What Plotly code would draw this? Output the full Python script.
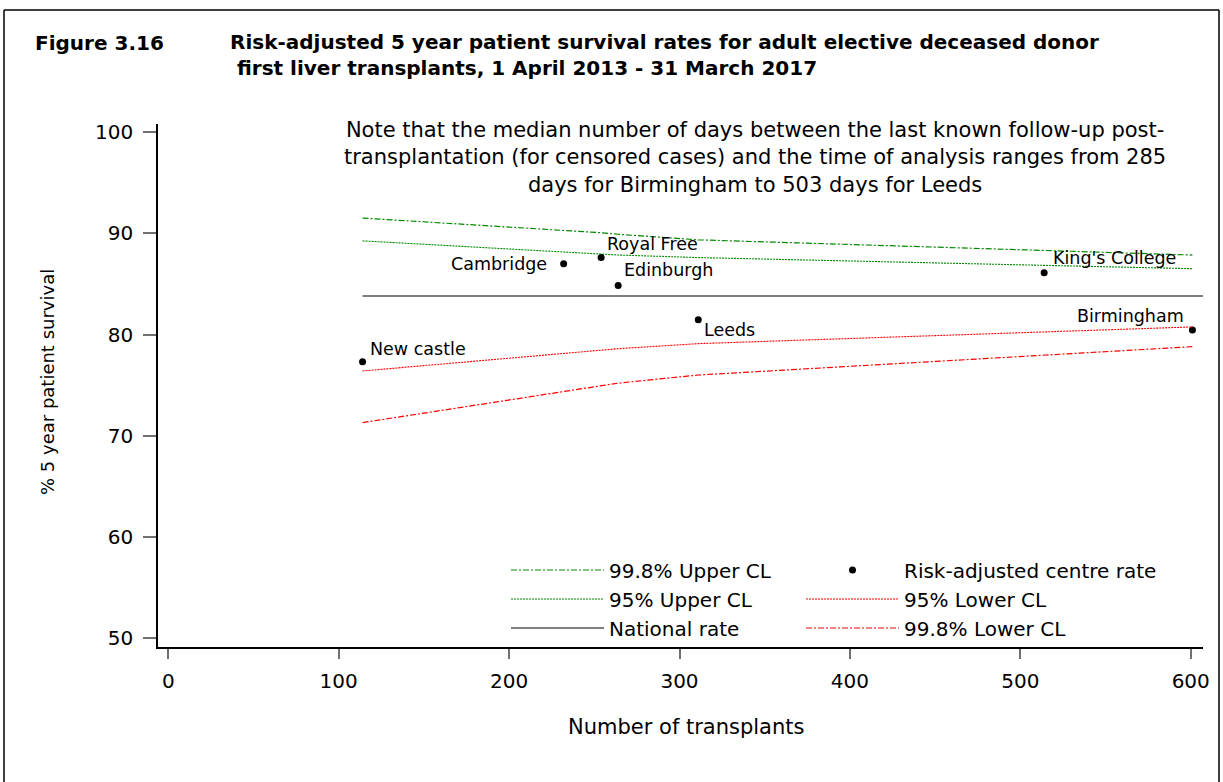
import plotly.graph_objects as go

# Centre results: number of transplants and risk-adjusted 5 year survival (%)
centres = ["New castle", "Cambridge", "Royal Free", "Edinburgh", "Leeds", "King's College", "Birmingham"]
n_transplants = [114, 232, 254, 264, 311, 514, 601]
survival = [77.3, 87.0, 87.6, 84.85, 81.45, 86.1, 80.45]

# Funnel limits evaluated at each centre size
funnel_n = [114, 232, 254, 264, 311, 514, 601]
upper_998 = [91.5, 90.3, 90.05, 89.9, 89.35, 88.3, 87.85]
upper_95 = [89.25, 88.2, 87.95, 87.85, 87.6, 86.8, 86.5]
lower_95 = [76.4, 78.1, 78.4, 78.6, 79.1, 80.25, 80.75]
lower_998 = [71.3, 74.4, 74.95, 75.2, 76.0, 77.95, 78.8]
national_rate = 83.8

x_range = [-6.04, 607.2]
y_range = [49.14, 100.79]
x_ticks = [0, 100, 200, 300, 400, 500, 600]
y_ticks = [50, 60, 70, 80, 90, 100]

W, H = 1223, 782
ML, MR, MT, MB = 158, 20, 124, 135
PW, PH = W - ML - MR, H - MT - MB


def px_x(px):
    return (px - ML) / PW


def px_y(py):
    return (H - MB - py) / PH


FONT = "DejaVu Sans"
GREEN = "#008a00"
RED = "#ff0000"

fig = go.Figure()

fig.add_trace(go.Scatter(x=funnel_n, y=upper_998, mode="lines", name="99.8% Upper CL",
                         line=dict(color=GREEN, width=1.2, dash="6px,2px,2px,2px"), legend="legend"))
fig.add_trace(go.Scatter(x=funnel_n, y=upper_95, mode="lines", name="95% Upper CL",
                         line=dict(color=GREEN, width=1.1, dash="2px,1px"), legend="legend"))
fig.add_trace(go.Scatter(x=[funnel_n[0], x_range[1]], y=[national_rate, national_rate], mode="lines",
                         name="National rate", line=dict(color="black", width=1.1), legend="legend"))
fig.add_trace(go.Scatter(x=n_transplants, y=survival, mode="markers", name="Risk-adjusted centre rate",
                         marker=dict(color="black", size=7), legend="legend2"))
fig.add_trace(go.Scatter(x=funnel_n, y=lower_95, mode="lines", name="95% Lower CL",
                         line=dict(color=RED, width=1.1, dash="2px,1px"), legend="legend2"))
fig.add_trace(go.Scatter(x=funnel_n, y=lower_998, mode="lines", name="99.8% Lower CL",
                         line=dict(color=RED, width=1.2, dash="6px,2px,2px,2px"), legend="legend2"))

# Centre labels, offset in pixels from each point
label_pos = {
    "New castle": ("left", 5, 13),
    "Cambridge": ("right", -15, 0),
    "Royal Free": ("left", 4, 14),
    "Edinburgh": ("left", 4, 15),
    "Leeds": ("left", 4, -10),
    "King's College": ("left", 7, 15),
    "Birmingham": ("right", -6, 14),
}
annotations = []
for name, nx, sy in zip(centres, n_transplants, survival):
    anchor, dx, dy = label_pos[name]
    annotations.append(dict(x=nx, y=sy, xref="x", yref="y", text=name, showarrow=False,
                            xanchor=anchor, yanchor="middle", xshift=dx, yshift=dy,
                            font=dict(family=FONT, size=17.5, color="black")))

# Note about follow-up time
annotations.append(dict(
    x=px_x(755), y=px_y(157), xref="paper", yref="paper", showarrow=False,
    text="Note that the median number of days between the last known follow-up post-<br>"
         "transplantation (for censored cases) and the time of analysis ranges from 285<br>"
         "days for Birmingham to 503 days for Leeds",
    align="center", xanchor="center", yanchor="middle",
    font=dict(family=FONT, size=21, color="black")))

# Figure heading
title_font = dict(family=FONT, size=20, color="black", weight="bold")
annotations += [
    dict(x=px_x(33), y=px_y(42.5), xref="paper", yref="paper", showarrow=False, text="Figure 3.16",
         xanchor="left", yanchor="middle", font=title_font),
    dict(x=px_x(228), y=px_y(54.5), xref="paper", yref="paper", showarrow=False,
         text="Risk-adjusted 5 year patient survival rates for adult elective deceased donor<br>"
              "&nbsp;first liver transplants, 1 April 2013 - 31 March 2017",
         align="left", xanchor="left", yanchor="middle", font=title_font),
]

# Axis titles
annotations += [
    dict(x=px_x(686), y=px_y(727), xref="paper", yref="paper", showarrow=False,
         text="Number of transplants", xanchor="center", yanchor="middle",
         font=dict(family=FONT, size=21, color="black")),
    dict(x=px_x(47), y=px_y(382), xref="paper", yref="paper", showarrow=False,
         text="% 5 year patient survival", textangle=-90, xanchor="center", yanchor="middle",
         font=dict(family=FONT, size=18, color="black")),
]

# Outer frame (top, left, right edges)
frame = dict(color="black", width=1.5)
shapes = [
    dict(type="line", xref="paper", yref="paper", x0=px_x(4), x1=px_x(1219), y0=px_y(10), y1=px_y(10), line=frame),
    dict(type="line", xref="paper", yref="paper", x0=px_x(4), x1=px_x(4), y0=px_y(10), y1=px_y(800), line=frame),
    dict(type="line", xref="paper", yref="paper", x0=px_x(1219), x1=px_x(1219), y0=px_y(10), y1=px_y(800), line=frame),
]

legend_common = dict(
    bgcolor="rgba(0,0,0,0)", borderwidth=0, font=dict(family=FONT, size=20, color="black"),
    orientation="v", itemwidth=93, xanchor="left", yanchor="top", tracegroupgap=0,
)

fig.update_layout(
    width=W, height=H,
    margin=dict(l=ML, r=MR, t=MT, b=MB, autoexpand=False),
    paper_bgcolor="white", plot_bgcolor="white",
    font=dict(family=FONT, size=20, color="black"),
    showlegend=True,
    legend=dict(x=px_x(506), y=px_y(550.5), **legend_common),
    legend2=dict(x=px_x(801), y=px_y(550.5), **legend_common),
    xaxis=dict(range=x_range, tickvals=x_ticks, ticks="outside", ticklen=10, tickwidth=1.5,
               tickcolor="#707070", showline=True, linecolor="black", linewidth=1.5,
               showgrid=False, zeroline=False, tickfont=dict(family=FONT, size=20, color="black"),
               ticklabelstandoff=5),
    yaxis=dict(range=y_range, tickvals=y_ticks, ticks="outside", ticklen=13, tickwidth=1.5,
               tickcolor="#707070", showline=True, linecolor="black", linewidth=1.5,
               showgrid=False, zeroline=False, tickfont=dict(family=FONT, size=20, color="black"),
               ticklabelstandoff=6),
    annotations=annotations,
    shapes=shapes,
)

fig.write_html("out.html")
